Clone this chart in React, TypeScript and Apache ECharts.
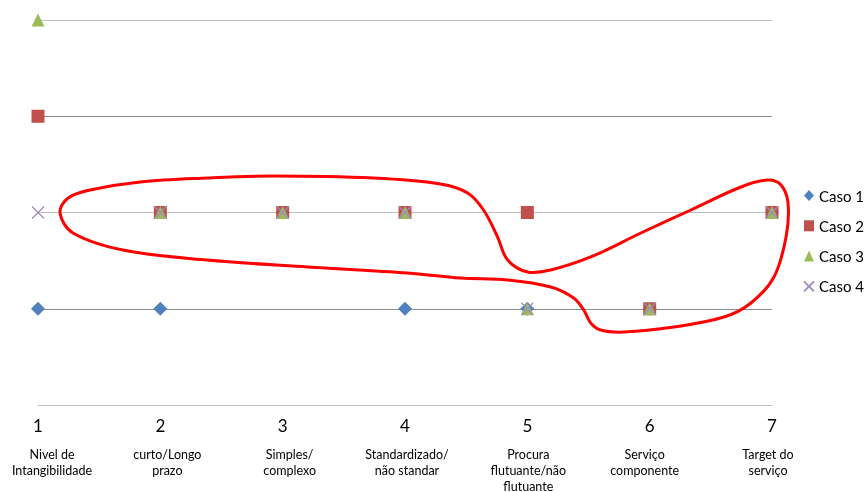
import React, { useEffect, useRef } from "react";
import * as echarts from "echarts";

const xTicks = [1, 2, 3, 4, 5, 6, 7];
const tickDescriptions = [
  "Nivel de\nIntangibilidade",
  "curto/Longo\nprazo",
  "Simples/\ncomplexo",
  "Standardizado/\nnão standar",
  "Procura\nflutuante/não\nflutuante",
  "Serviço\ncomponente",
  "Target do\nserviço",
];
const seriesNames = ["Caso 1", "Caso 2", "Caso 3", "Caso 4"];
const caso1 = [1, 1, 2, 1, 1, 1, 2];
const caso2 = [3, 2, 2, 2, 2, 1, 2];
const caso3 = [4, 2, 2, 2, 1, 1, 2];
const caso4 = [2, 2, 2, 2, 1, 1, 2];

// annotation loop (data coordinates)
const loopX = [1.18, 1.246, 1.426, 1.835, 2.383, 2.924, 3.742, 4.29, 4.512, 4.642, 4.757, 4.839, 5.002, 5.191, 5.518, 5.928, 6.337, 6.746, 6.967, 7.074, 7.131, 7.115, 7.016, 6.828, 6.607, 6.198, 5.788, 5.6, 5.518, 5.461, 5.379, 5.191, 4.839, 4.454, 4.02, 3.202, 2.383, 1.696, 1.286];
const loopY = [1.995, 2.151, 2.234, 2.317, 2.358, 2.379, 2.358, 2.296, 2.203, 2.026, 1.745, 1.506, 1.382, 1.403, 1.538, 1.787, 2.026, 2.265, 2.338, 2.286, 2.099, 1.745, 1.33, 1.06, 0.914, 0.81, 0.758, 0.779, 0.852, 0.987, 1.112, 1.226, 1.299, 1.319, 1.371, 1.434, 1.506, 1.61, 1.787];

const FONT = "Lato, 'Open Sans', sans-serif";

export default function App() {
  const ref = useRef<HTMLDivElement>(null);
  useEffect(() => {
    if (!ref.current) return;
    const chart = echarts.init(ref.current, null, { renderer: "svg" });
    const mk = (vals: number[]) => vals.map((v, i) => [xTicks[i], v]);
    const colors = ["#4F81BD", "#C0504D", "#9BBB59", "#8064A2"];
    const symbols = ["diamond", "rect", "triangle", "path://M0,0L10,10M10,0L0,10"];
    const sizes = [14, 13, 13, 12];
    const datas = [caso1, caso2, caso3, caso4];
    // horizontal shift (px) of each description text box relative to its tick
    const descShift = [14, 7, 7, 2, 1, -5, -4];
    const rich: any = {
      n: { fontSize: 17, lineHeight: 22, color: "#000", fontFamily: FONT },
      s: { fontSize: 4, lineHeight: 10 },
    };
    descShift.forEach((sh, i) => {
      rich["d" + i] = {
        fontSize: 12.5,
        lineHeight: 16,
        color: "#000",
        fontFamily: FONT,
        padding: sh >= 0 ? [0, 0, 0, sh * 2] : [0, -sh * 2, 0, 0],
      };
    });
    chart.setOption({
      animation: false,
      textStyle: { fontFamily: FONT },
      grid: {
        left: 38,
        right: 93,
        top: 20,
        bottom: 87,
        containLabel: false,
        outerBoundsMode: "none",
      },
      xAxis: {
        type: "value",
        min: 1,
        max: 7,
        interval: 1,
        axisLine: { show: true, lineStyle: { color: "#BFBFBF", width: 1 } },
        axisTick: { show: false },
        splitLine: { show: false },
        axisLabel: {
          margin: 9,
          hideOverlap: false,
          formatter: (v: number) => {
            const i = xTicks.indexOf(v);
            const desc = tickDescriptions[i] || "";
            return (
              "{n|" + v + "}\n{s| }\n" +
              desc.split("\n").map((l) => "{d" + i + "|" + l + "}").join("\n")
            );
          },
          rich,
        },
      },
      yAxis: {
        type: "value",
        min: 0,
        max: 4,
        interval: 1,
        axisLine: { show: false },
        axisTick: { show: false },
        axisLabel: { show: false },
        splitLine: {
          show: true,
          lineStyle: { color: ["#BFBFBF", "#8C8C8C", "#BFBFBF", "#8C8C8C", "#BFBFBF"], width: 1 },
        },
      },
      legend: {
        orient: "vertical",
        left: 803,
        top: 188,
        padding: 0,
        itemWidth: 10,
        itemHeight: 11,
        itemGap: 15.3,
        textStyle: { fontSize: 15, color: "#000", fontFamily: FONT },
        data: seriesNames,
      },
      series: seriesNames.map((name, k) => ({
        name,
        type: "scatter",
        symbol: symbols[k],
        symbolSize: sizes[k],
        data: mk(datas[k]),
        z: 2 + k,
        itemStyle:
          k === 3
            ? { color: "rgba(0,0,0,0)", borderColor: "#9E8BC0", borderWidth: 1.2, opacity: 1 }
            : { color: colors[k], opacity: 1 },
      })),
    });
    const pts = loopX.map((x, i) => {
      const p = chart.convertToPixel({ gridIndex: 0 }, [x, loopY[i]]) as number[];
      return [p[0], p[1]];
    });
    chart.setOption({
      graphic: {
        elements: [
          {
            type: "polygon",
            z: 100,
            shape: { points: pts, smooth: 0.35 },
            style: { fill: null, stroke: "#FF0000", lineWidth: 3 },
          },
        ],
      },
    });
    return () => chart.dispose();
  }, []);
  return (
    <div
      ref={ref}
      style={{ position: "fixed", left: 0, top: 0, width: 865, height: 492 }}
    />
  );
}
